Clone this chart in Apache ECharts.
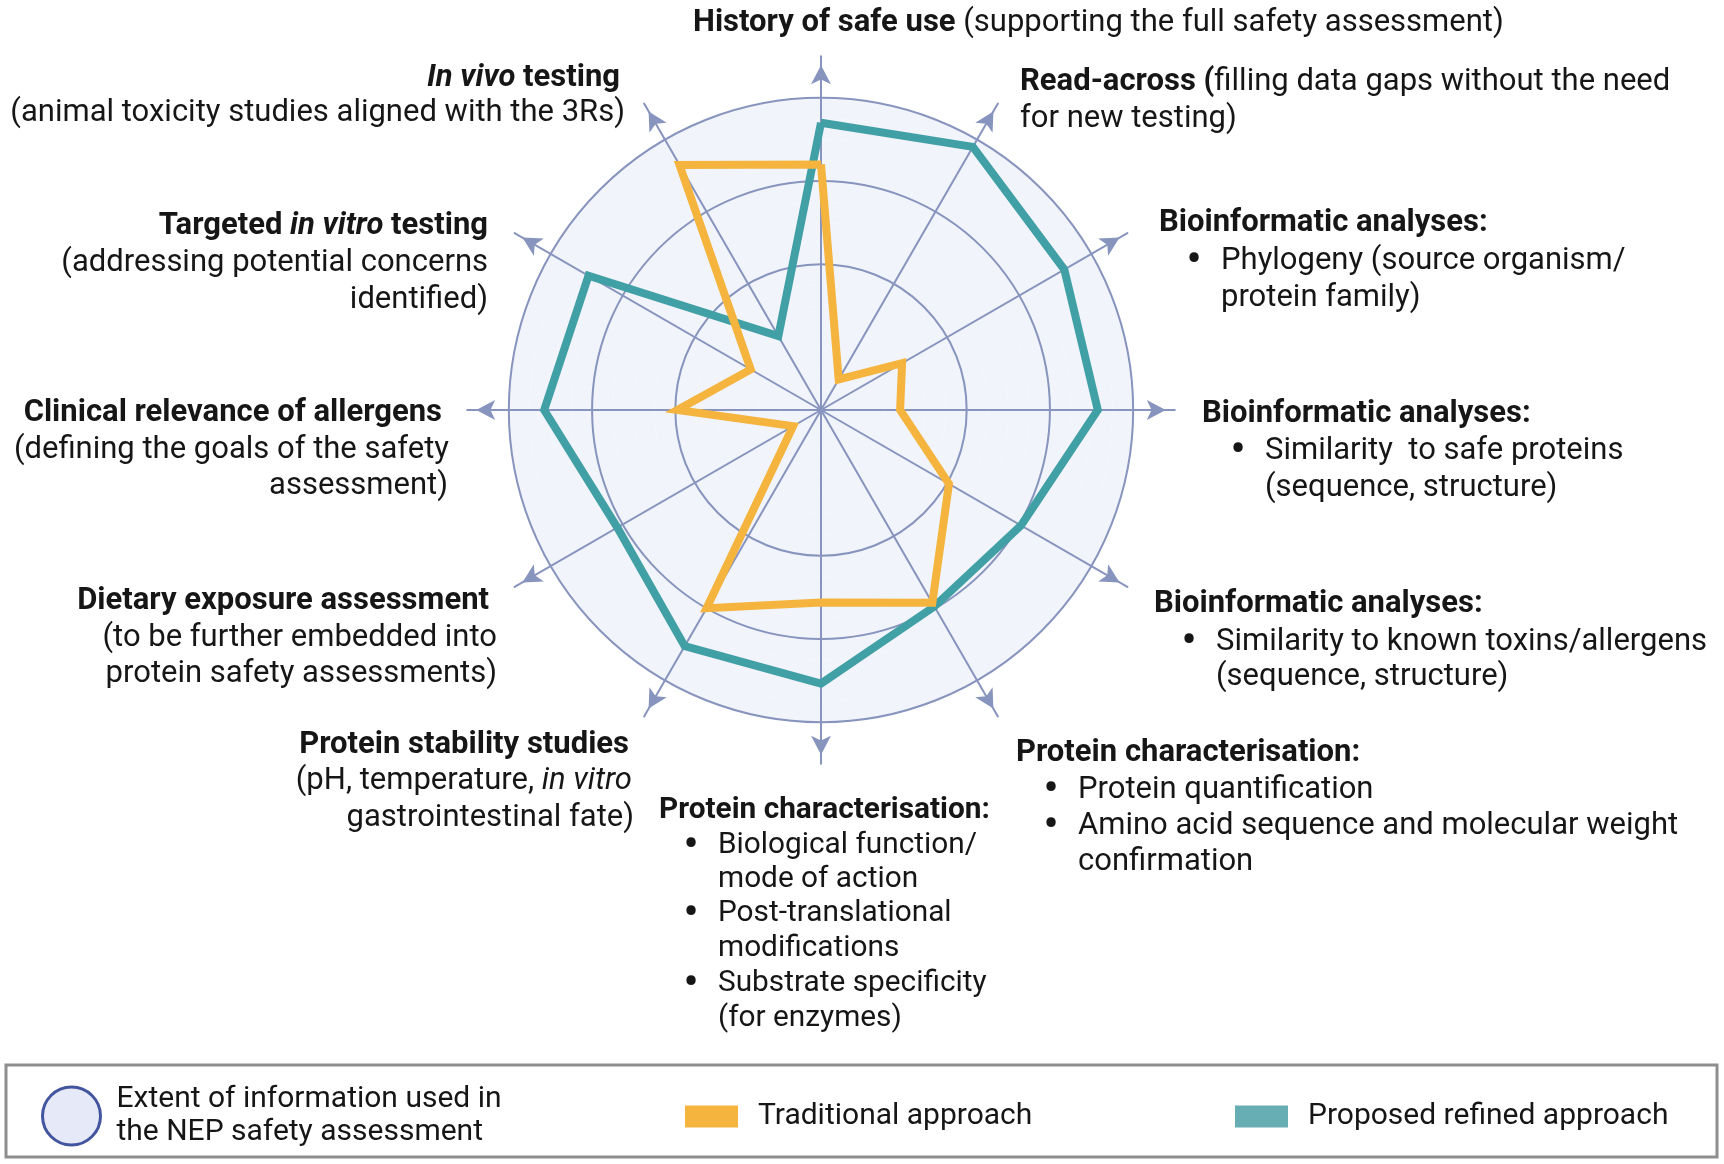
<!DOCTYPE html>
<html>
<head>
<meta charset="utf-8">
<script src="https://cdn.jsdelivr.net/npm/echarts@6/dist/echarts.min.js"></script>
<style>html,body{margin:0;padding:0;background:#fff}#c{width:1724px;height:1164px}</style>
</head>
<body>
<div id="c"></div>
<script>
// ---- data ----
var categories = [
  'History of safe use', 'In vivo testing', 'Targeted in vitro testing',
  'Clinical relevance of allergens', 'Dietary exposure assessment',
  'Protein stability studies', 'Protein characterisation (function)',
  'Protein characterisation (quantification)', 'Bioinformatics: toxins/allergens',
  'Bioinformatics: safe proteins', 'Bioinformatics: phylogeny', 'Read-across'
];
var traditional = [11.8, 13.6, 3.9, 6.9, 1.55, 11.0, 9.25, 10.7, 7.1, 3.8, 4.5, 1.7];
var refined     = [13.8, 4.1, 12.9, 13.3, 11.3, 13.1, 13.15, 10.9, 11.1, 13.3, 13.5, 14.6];
var seriesNames = ['Traditional approach', 'Proposed refined approach'];
var extentName = 'Extent of information used in\nthe NEP safety assessment';
var scaleMax = 17;          // axis length in ring units
var ringTicks = [7, 11, 15]; // drawn rings
var discTicks = 15;          // filled disc up to this tick

// label texts (rich)
var labelLines = [
  '{b|History of safe use} (supporting the full safety assessment)',
  '{bi|In vivo}{b| testing}',
  '(animal toxicity studies aligned with the 3Rs)',
  '{b|Targeted }{bi|in vitro}{b| testing}',
  '(addressing potential concerns',
  'identified)',
  '{b|Clinical relevance of allergens}',
  '(defining the goals of the safety',
  'assessment)',
  '{b|Dietary exposure assessment}',
  '(to be further embedded into',
  'protein safety assessments)',
  '{b|Protein stability studies}',
  '(pH, temperature, {i|in vitro}',
  'gastrointestinal fate)',
  '{b|Protein characterisation:}',
  'Biological function/',
  'mode of action',
  'Post-translational',
  'modifications',
  'Substrate specificity',
  '(for enzymes)',
  '{b|Protein characterisation:}',
  'Protein quantification',
  'Amino acid sequence and molecular weight',
  'confirmation',
  '{b|Bioinformatic analyses:}',
  'Similarity to known toxins/allergens',
  '(sequence, structure)',
  '{b|Bioinformatic analyses:}',
  'Similarity  to safe proteins',
  '(sequence, structure)',
  '{b|Bioinformatic analyses:}',
  'Phylogeny (source organism/',
  'protein family)',
  '{b|Read-across (}filling data gaps without the need',
  'for new testing)'
];

// ---- layout (positions only) ----
var CX = 821, CY = 410, R = 353.8;
var DY = 3;
// [x, y, align, bullet, fontSize]
var labelPos = [
  [693, 20, 'left'],
  [620, 75, 'right'],
  [625, 110, 'right'],
  [488, 223, 'right'],
  [488, 260, 'right'],
  [488, 297, 'right'],
  [442, 410, 'right'],
  [449, 447, 'right'],
  [448, 483, 'right'],
  [489, 598, 'right'],
  [497, 635, 'right'],
  [497, 671, 'right'],
  [629, 742, 'right'],
  [632, 778, 'right'],
  [634, 815, 'right'],
  [659, 808, 'left', 0, 29.8],
  [718, 843, 'left', 1, 29.8],
  [718, 877, 'left', 0, 29.8],
  [718, 911, 'left', 1, 29.8],
  [718, 946, 'left', 0, 29.8],
  [718, 981, 'left', 1, 29.8],
  [718, 1016, 'left', 0, 29.8],
  [1016, 750, 'left'],
  [1078, 787, 'left', 1],
  [1078, 823, 'left', 1],
  [1078, 859, 'left'],
  [1154, 601, 'left'],
  [1216, 639, 'left', 1],
  [1216, 674, 'left'],
  [1202, 411, 'left'],
  [1265, 448, 'left', 1],
  [1265, 485, 'left'],
  [1159, 220, 'left'],
  [1221, 258, 'left', 1],
  [1221, 295, 'left'],
  [1020, 79, 'left'],
  [1020, 116, 'left']
];

var FONT = 'Roboto, "Noto Sans", sans-serif';
var FS = 31;
var TXT = '#161616';
var AXIS = '#8794bd';
var FILL = '#f1f4fa';
var TEAL = '#40a0a5';
var YEL = '#f4b43d';

function makeRich(fs) {
  return {
    b: {fontWeight: 'bold', fontSize: fs, fontFamily: FONT, fill: TXT, color: TXT},
    bi: {fontWeight: 'bold', fontStyle: 'italic', fontSize: fs, fontFamily: FONT, fill: TXT, color: TXT},
    i: {fontStyle: 'italic', fontSize: fs, fontFamily: FONT, fill: TXT, color: TXT}
  };
}

var graphics = [];
labelLines.forEach(function (t, k) {
  var p = labelPos[k];
  var fs = p[4] || FS;
  graphics.push({
    type: 'text', x: p[0], y: p[1] + DY, silent: true,
    style: {text: t, fontSize: fs, fontFamily: FONT, fill: TXT,
      align: p[2], verticalAlign: 'middle', rich: makeRich(fs)}
  });
  if (p[3]) {
    graphics.push({
      type: 'text', x: p[0] - 27, y: p[1] + DY + 1, silent: true,
      style: {text: '\u2022', fontSize: 40, fontWeight: 'bold', fontFamily: FONT, fill: TXT,
        align: 'center', verticalAlign: 'middle'}
    });
  }
});
// legend frame
graphics.push({
  type: 'rect', silent: true, z: -1,
  shape: {x: 6, y: 1065, width: 1711, height: 92},
  style: {fill: '#fff', stroke: '#8e8e8e', lineWidth: 3}
});

// ring colours: only selected ticks visible
var lineColors = [], areaColors = [];
for (var i = 0; i <= scaleMax; i++) {
  lineColors.push(ringTicks.indexOf(i) >= 0 ? AXIS : 'rgba(0,0,0,0)');
  areaColors.push(i < discTicks ? FILL : 'rgba(0,0,0,0)');
}

var legendText = {fontSize: 30, fontFamily: FONT, color: TXT, lineHeight: 33};

var option = {
  animation: false,
  backgroundColor: '#fff',
  graphic: graphics,
  legend: [
    {
      left: 36, top: 1078, selectedMode: false, itemWidth: 58, itemHeight: 58,
      data: [{name: extentName, icon: 'circle',
        itemStyle: {color: '#e6eaf8', borderColor: '#44559f', borderWidth: 3}}],
      textStyle: Object.assign({padding: [0, 0, 0, 11]}, legendText)
    },
    {
      left: 680, top: 1095, selectedMode: false, itemWidth: 53, itemHeight: 22,
      data: [{name: seriesNames[0], icon: 'rect', itemStyle: {color: YEL, borderWidth: 0}}],
      textStyle: Object.assign({padding: [0, 0, 0, 15]}, legendText)
    },
    {
      left: 1230, top: 1095, selectedMode: false, itemWidth: 53, itemHeight: 22,
      data: [{name: seriesNames[1], icon: 'rect', itemStyle: {color: '#66adb4', borderWidth: 0}}],
      textStyle: Object.assign({padding: [0, 0, 0, 15]}, legendText)
    }
  ],
  radar: {
    center: [CX, CY],
    radius: R,
    startAngle: 90,
    shape: 'circle',
    splitNumber: scaleMax,
    indicator: categories.map(function (c) { return {name: c, min: 0, max: scaleMax}; }),
    axisName: {show: false},
    axisLine: {
      show: true,
      symbol: ['none', 'arrow'],
      symbolSize: [15, 19],
      symbolOffset: [0, -9],
      lineStyle: {color: AXIS, width: 2}
    },
    splitLine: {show: true, lineStyle: {color: lineColors, width: 2}},
    splitArea: {show: true, areaStyle: {color: areaColors}},
    axisTick: {show: false},
    axisLabel: {show: false}
  },
  series: [
    {
      type: 'radar', name: extentName, data: [], silent: true
    },
    {
      type: 'radar', name: seriesNames[1], symbol: 'none', silent: true, z: 3,
      itemStyle: {color: TEAL},
      lineStyle: {color: TEAL, width: 8, join: 'miter', miterLimit: 10},
      data: [{value: refined, name: seriesNames[1]}]
    },
    {
      type: 'radar', name: seriesNames[0], symbol: 'none', silent: true, z: 4,
      itemStyle: {color: YEL},
      lineStyle: {color: YEL, width: 8, join: 'miter', miterLimit: 10},
      data: [{value: traditional, name: seriesNames[0]}]
    }
  ]
};

var chart = echarts.init(document.getElementById('c'), null, {renderer: 'canvas'});
chart.setOption(option);
</script>
</body>
</html>
